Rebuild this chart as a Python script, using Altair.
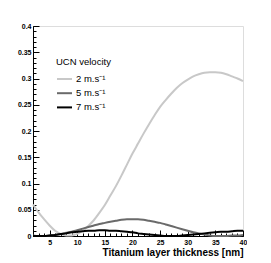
import altair as alt
import pandas as pd

thickness = list(range(2, 41))
v2 = [0.060, 0.045, 0.032, 0.020, 0.010, 0.004, 0.001, 0.001, 0.004, 0.010,
      0.019, 0.030, 0.044, 0.059, 0.077, 0.095, 0.115, 0.136, 0.157, 0.176,
      0.195, 0.213, 0.230, 0.246, 0.259, 0.271, 0.282, 0.291, 0.298, 0.304,
      0.308, 0.311, 0.312, 0.312, 0.311, 0.308, 0.304, 0.300, 0.295]
v5 = [0.001, 0.000, 0.000, 0.001, 0.002, 0.004, 0.006, 0.008, 0.011, 0.014,
      0.017, 0.020, 0.023, 0.025, 0.027, 0.029, 0.031, 0.032, 0.032, 0.032,
      0.031, 0.029, 0.027, 0.025, 0.022, 0.019, 0.016, 0.013, 0.010, 0.007,
      0.005, 0.003, 0.001, 0.000, 0.000, 0.000, 0.001, 0.001, 0.002]
v7 = [0.000, 0.000, 0.000, 0.001, 0.002, 0.004, 0.005, 0.007, 0.008, 0.009,
      0.010, 0.010, 0.011, 0.011, 0.010, 0.010, 0.009, 0.008, 0.007, 0.005,
      0.004, 0.003, 0.002, 0.001, 0.000, 0.000, 0.000, 0.001, 0.002, 0.003,
      0.004, 0.005, 0.006, 0.007, 0.008, 0.008, 0.009, 0.010, 0.010]

series_names = ["2 m.s\u207b\u00b9", "5 m.s\u207b\u00b9", "7 m.s\u207b\u00b9"]
series_colors = ["#c8c8c8", "#6a6a6a", "#000000"]

x_major = [5, 10, 15, 20, 25, 30, 35, 40]
x_minor = list(range(2, 41))
y_major = [0, 0.05, 0.1, 0.15, 0.2, 0.25, 0.3, 0.35, 0.4]
y_minor = [i / 100 for i in range(41)]

rows = []
for name, vals in zip(series_names, [v2, v5, v7]):
    for t, v in zip(thickness, vals):
        rows.append({"series": name, "t": t, "r": v})
df = pd.DataFrame(rows)

W, H = 210, 210
FONT = "Liberation Sans"

xs = alt.Scale(domain=[2, 40], nice=False, zero=False)
ys = alt.Scale(domain=[0, 0.4], nice=False)

main = alt.Chart(df).mark_line(strokeWidth=2, interpolate="monotone").encode(
    x=alt.X("t:Q", scale=xs, axis=alt.Axis(
        orient="bottom", values=x_major, format="d", ticks=False, tickSize=0,
        grid=False, domain=True, domainColor="black", labelFlush=False,
        labelOverlap=False, labelBound=False,
        labelFont=FONT, labelFontWeight="bold", labelFontSize=7, labelPadding=2,
        labelColor="black",
        title="Titanium layer thickness [nm]", titleFont=FONT, titleFontWeight="bold",
        titleFontSize=10, titleAlign="right", titleAnchor="end", titleX=W, titleY=19.5,
        titleBaseline="alphabetic", titleColor="black")),
    y=alt.Y("r:Q", scale=ys, axis=alt.Axis(
        orient="left", values=y_major, format="~g", ticks=False, tickSize=0,
        grid=False, domain=True, domainColor="black", labelFlush=False,
        labelOverlap=False, labelBound=False,
        labelFont=FONT, labelFontWeight="bold", labelFontSize=7, labelPadding=2,
        labelColor="black", title=None)),
    color=alt.Color("series:N", scale=alt.Scale(domain=series_names, range=series_colors),
                    sort=series_names,
                    legend=alt.Legend(orient="none", legendX=23, legendY=31, padding=0,
                                      title="UCN velocity", titleFont=FONT,
                                      titleFontWeight="normal", titleFontSize=9.5,
                                      titleColor="black", titlePadding=4,
                                      labelFont=FONT, labelFontSize=9.5, labelColor="black",
                                      labelOffset=3, symbolType="stroke", symbolSize=225,
                                      symbolStrokeWidth=2, rowPadding=1.2)),
)

def tick_layer(xvals, yvals, xsize, ysize):
    return alt.Chart(df).mark_line(opacity=0).encode(
        x=alt.X("t:Q", scale=xs, axis=alt.Axis(
            orient="top", offset=-H, values=xvals, labels=False, domain=False,
            grid=False, ticks=True, tickSize=xsize, tickColor="black", title=None)),
        y=alt.Y("r:Q", scale=ys, axis=alt.Axis(
            orient="right", offset=-W, values=yvals, labels=False, domain=False,
            grid=False, ticks=True, tickSize=ysize, tickColor="black", title=None)),
    )

chart = alt.layer(
    main,
    tick_layer(x_major, y_major, 6, 6),
    tick_layer(x_minor, y_minor, 3, 3),
).resolve_axis(x="independent", y="independent").properties(
    width=W, height=H,
    autosize=alt.AutoSizeParams(type="none"),
    padding={"left": 25, "top": 18, "right": 4, "bottom": 22},
    title=alt.TitleParams(text="Fraction of reflected neutrons", orient="left",
                          anchor="end", frame="group", angle=270, baseline="alphabetic",
                          font=FONT, fontSize=10, fontWeight="bold", color="black",
                          offset=2, dx=3),
).configure_view(stroke="#909090", strokeWidth=1).configure(background="white")

chart.save("out.html", embed_options={"renderer": "svg", "actions": False})
